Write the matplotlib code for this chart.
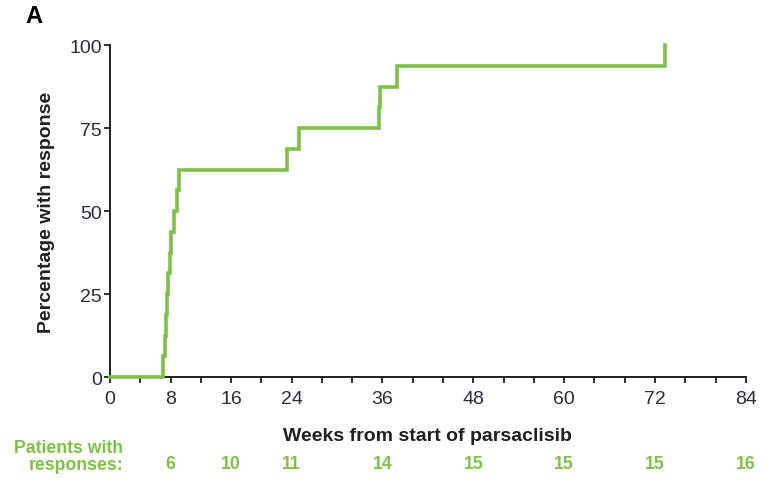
import numpy as np
import matplotlib.pyplot as plt
import matplotlib.transforms as mtransforms

plt.rcParams['font.family'] = ['Liberation Sans', 'DejaVu Sans']

# cumulative response curve (weeks, % with response)
weeks = [0, 7.0, 7.3, 7.4, 7.6, 7.7, 7.9, 8.0, 8.5, 8.8, 9.1, 23.4, 25.0, 35.5, 35.7, 37.9, 73.3]
pct = [0, 6.25, 12.5, 18.75, 25, 31.25, 37.5, 43.75, 50, 56.25, 62.5, 68.75, 75, 81.25, 87.5, 93.75, 100]

# patients with responses row
risk_weeks = [8, 16, 24, 36, 48, 60, 72, 84]
risk_counts = [6, 10, 11, 14, 15, 15, 15, 16]

xtick_labels = [0, 8, 16, 24, 36, 48, 60, 72, 84]
ytick_labels = [0, 25, 50, 75, 100]

green = '#7DC242'
dark = '#231f20'
ticktext = '#2b2b3a'

fig = plt.figure(figsize=(7.61, 4.81), dpi=100)
ax = fig.add_axes([0.1445, 0.214, 0.8355, 0.690])

ax.step(weeks, pct, where='post', color=green, lw=2.6, solid_joinstyle='miter',
        zorder=5, clip_on=False)

ax.set_xlim(0, 84)
ax.set_ylim(0, 100)
ax.set_xticks(np.arange(0, 85, 4))
ax.set_xticklabels([str(t) if t in xtick_labels else '' for t in range(0, 85, 4)])
ax.set_yticks(ytick_labels)
ax.tick_params(direction='out', length=4, width=1.3, color=dark, labelcolor=ticktext,
               labelsize=14, pad=2)
ax.tick_params(axis='x', pad=5)
for s in ['top', 'right']:
    ax.spines[s].set_visible(False)
for s in ['left', 'bottom']:
    ax.spines[s].set_linewidth(1.4)
    ax.spines[s].set_color(dark)

ax.set_ylabel('Percentage with response', fontsize=14, fontweight='bold', color=dark, labelpad=10)
ax.set_xlabel('Weeks from start of parsaclisib', fontsize=14, fontweight='bold', color=dark, labelpad=15)

fig.text(0.034, 0.965, 'A', fontsize=17, fontweight='bold', color='black', ha='left', va='center')

trans = mtransforms.blended_transform_factory(ax.transData, fig.transFigure)
for w, c in zip(risk_weeks, risk_counts):
    ax.text(w, 0.035, str(c), transform=trans, ha='center', va='center',
            fontsize=12.7, fontweight='bold', color=green, clip_on=False)
fig.text(0.162, 0.049, 'Patients with\nresponses:', ha='right', va='center',
         fontsize=12.7, fontweight='bold', color=green, linespacing=1.0)

fig.savefig('out.png', dpi=100)
